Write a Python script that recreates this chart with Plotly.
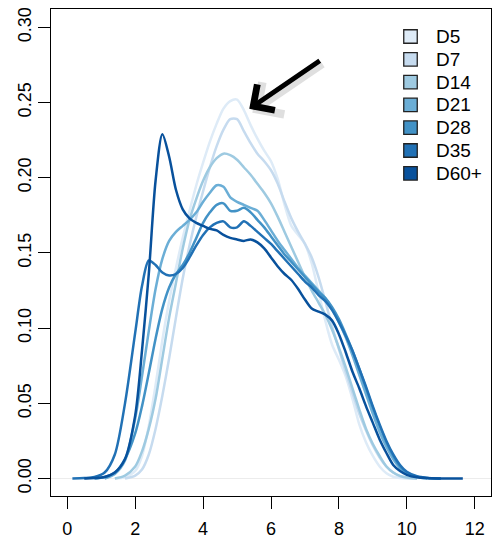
import plotly.graph_objects as go

# ---- data ----
x_grid = [0.15, 0.5, 0.8, 1.1, 1.4, 1.7, 2.0, 2.2, 2.4, 2.6, 2.8, 3.0, 3.2, 3.4, 3.6, 3.8,
          4.0, 4.2, 4.4, 4.6, 4.8, 5.0, 5.2, 5.4, 5.6, 5.8, 6.0, 6.2, 6.4, 6.6, 6.8, 7.0,
          7.2, 7.4, 7.6, 7.8, 8.0, 8.2, 8.4, 8.6, 8.8, 9.0, 9.2, 9.4, 9.6, 9.8, 10.0, 10.3,
          10.6, 11.0, 11.65]

d5 = [None, None, None, None, 0.0, 0.001, 0.005, 0.015, 0.035, 0.062, 0.092, 0.118, 0.14, 0.16,
      0.178, 0.195, 0.21, 0.224, 0.236, 0.246, 0.251, 0.252, 0.245, 0.235, 0.226, 0.218, 0.211,
      0.199, 0.182, 0.168, 0.162, 0.156, 0.143, 0.124, 0.105, 0.089, 0.079, 0.068, 0.053, 0.036,
      0.024, 0.015, 0.008, 0.0035, 0.0012, 0.0004, 0.0001, 0.0, None, None, None]
d7 = [None, None, None, None, None, 0.0, 0.002, 0.006, 0.016, 0.033, 0.055, 0.08, 0.107, 0.133,
      0.155, 0.174, 0.191, 0.207, 0.221, 0.232, 0.239, 0.239, 0.231, 0.223, 0.216, 0.211, 0.205,
      0.196, 0.184, 0.173, 0.164, 0.156, 0.147, 0.134, 0.118, 0.101, 0.086, 0.071, 0.057, 0.043,
      0.032, 0.022, 0.014, 0.008, 0.004, 0.0015, 0.0005, 0.0, None, None, None]
d14 = [None, None, None, None, 0.0, 0.002, 0.008, 0.018, 0.033, 0.053, 0.08, 0.107, 0.13, 0.153,
       0.172, 0.186, 0.198, 0.207, 0.213, 0.216, 0.215, 0.212, 0.207, 0.202, 0.196, 0.19, 0.183,
       0.174, 0.164, 0.154, 0.144, 0.134, 0.125, 0.117, 0.109, 0.099, 0.087, 0.074, 0.06, 0.046,
       0.033, 0.023, 0.015, 0.008, 0.004, 0.0018, 0.0007, 0.0, None, None, None]
d21 = [None, None, None, 0.0, 0.003, 0.012, 0.04, 0.068, 0.098, 0.126, 0.146, 0.158, 0.164, 0.168,
       0.172, 0.177, 0.184, 0.19, 0.195, 0.194, 0.187, 0.184, 0.182, 0.18, 0.178, 0.172, 0.165,
       0.158, 0.152, 0.146, 0.14, 0.135, 0.13, 0.125, 0.12, 0.113, 0.104, 0.094, 0.082, 0.069,
       0.056, 0.043, 0.031, 0.021, 0.013, 0.007, 0.0035, 0.001, 0.0, None, None]
d28 = [None, None, 0.0, 0.001, 0.004, 0.013, 0.03, 0.048, 0.07, 0.093, 0.113, 0.127, 0.136, 0.142,
       0.15, 0.16, 0.17, 0.177, 0.182, 0.183, 0.178, 0.178, 0.18, 0.177, 0.172, 0.167, 0.161,
       0.155, 0.149, 0.144, 0.139, 0.134, 0.129, 0.124, 0.12, 0.114, 0.106, 0.096, 0.085, 0.073,
       0.06, 0.047, 0.035, 0.024, 0.015, 0.008, 0.004, 0.0013, 0.0004, 0.0, None]
d35 = [0.0, 0.0003, 0.001, 0.004, 0.016, 0.05, 0.097, 0.128, 0.145, 0.142, 0.137, 0.135, 0.136,
       0.14, 0.147, 0.155, 0.162, 0.167, 0.17, 0.171, 0.167, 0.167, 0.171, 0.168, 0.164, 0.16,
       0.156, 0.151, 0.146, 0.141, 0.136, 0.131, 0.127, 0.122, 0.118, 0.112, 0.104, 0.095, 0.085,
       0.073, 0.061, 0.048, 0.036, 0.025, 0.016, 0.009, 0.0045, 0.0015, 0.0004, 0.0, None]
d60 = [None, 0.0, 0.0003, 0.001, 0.004, 0.013, 0.042, 0.085, 0.136, 0.198, 0.229, 0.214, 0.192,
       0.179, 0.173, 0.17, 0.168, 0.166, 0.165, 0.162, 0.16, 0.159, 0.158, 0.159, 0.157, 0.153,
       0.147, 0.141, 0.136, 0.132, 0.126, 0.119, 0.113, 0.111, 0.109, 0.105, 0.096, 0.084, 0.071,
       0.06, 0.048, 0.037, 0.026, 0.017, 0.009, 0.005, 0.0025, 0.0008, 0.0003, 0.0001, 0.0]

series_names = ["D5", "D7", "D14", "D21", "D28", "D35", "D60+"]
series_values = [d5, d7, d14, d21, d28, d35, d60]
colors = ["#DEEBF7", "#C6DBEF", "#9ECAE1", "#6BAED6", "#4292C6", "#2171B5", "#08519C"]

x_ticks = [0, 2, 4, 6, 8, 10, 12]
y_ticks = [0.0, 0.05, 0.10, 0.15, 0.20, 0.25, 0.30]

# arrow annotation (head / tail in data units)
arrow_head = (5.36, 0.2458)
arrow_tail = (7.48, 0.2785)

FONT = "Liberation Sans, Arial, Helvetica, sans-serif"

# ---- layout geometry (pixels) ----
W, H = 492, 541
ML, MR, MT, MB = 51, 1, 9, 45
PW, PH = W - ML - MR, H - MT - MB


def px_to_paper(px, py):
    return (px - ML) / PW, (H - MB - py) / PH


fig = go.Figure()
for name, vals, col in zip(series_names, series_values, colors):
    fig.add_trace(go.Scatter(x=x_grid, y=vals, mode="lines", name=name,
                             line=dict(color=col, width=2.5, shape="spline", smoothing=0.8),
                             showlegend=False, hoverinfo="skip"))

# ---- legend (squares + text), R style ----
LEG_X_SQ, LEG_X_TXT, LEG_Y0, LEG_DY, SQ = 410.5, 434, 36.5, 22.8, 13.5
for i, (name, col) in enumerate(zip(series_names, colors)):
    cy = LEG_Y0 + i * LEG_DY
    x0, y0 = px_to_paper(LEG_X_SQ - SQ / 2, cy + SQ / 2)
    x1, y1 = px_to_paper(LEG_X_SQ + SQ / 2, cy - SQ / 2)
    fig.add_shape(type="rect", xref="paper", yref="paper", x0=x0, y0=y0, x1=x1, y1=y1,
                  fillcolor=col, line=dict(color="#222222", width=1.3), layer="above")
    tx, ty = px_to_paper(LEG_X_TXT, cy)
    fig.add_annotation(x=tx, y=ty, xref="paper", yref="paper", text=name, showarrow=False,
                       xanchor="left", yanchor="middle",
                       font=dict(family=FONT, size=19, color="black"))

# arrow shadow + arrow
fig.add_annotation(x=arrow_head[0] + 0.09, y=arrow_head[1] - 0.0025,
                   ax=arrow_tail[0] + 0.09, ay=arrow_tail[1] - 0.0025,
                   xref="x", yref="y", axref="x", ayref="y", text="",
                   showarrow=True, arrowhead=4, arrowsize=1.15, arrowwidth=6.5,
                   arrowcolor="rgba(0,0,0,0.12)")
fig.add_annotation(x=arrow_head[0], y=arrow_head[1], ax=arrow_tail[0], ay=arrow_tail[1],
                   xref="x", yref="y", axref="x", ayref="y", text="",
                   showarrow=True, arrowhead=4, arrowsize=1.2, arrowwidth=5,
                   arrowcolor="black")

fig.update_layout(
    width=W, height=H,
    margin=dict(l=ML, r=MR, t=MT, b=MB),
    paper_bgcolor="white", plot_bgcolor="white",
    font=dict(family=FONT, size=18, color="black"),
    showlegend=False,
)
fig.update_xaxes(range=[-0.48, 12.48], tickvals=x_ticks, ticktext=[str(v) for v in x_ticks],
                 ticks="outside", ticklen=12, tickwidth=1, tickcolor="black",
                 showline=True, mirror=True, linecolor="black", linewidth=1,
                 showgrid=False, zeroline=False, tickfont=dict(size=18),
                 ticklabelstandoff=4)
fig.update_yaxes(range=[-0.0116, 0.3122], tickvals=y_ticks, ticktext=[f"{v:.2f}" for v in y_ticks],
                 ticks="outside", ticklen=12, tickwidth=1, tickcolor="black",
                 showline=True, mirror=True, linecolor="black", linewidth=1,
                 showgrid=False, zeroline=True, zerolinecolor="#ececec", zerolinewidth=1,
                 tickangle=-90, tickfont=dict(size=18))

fig.write_html("out.html")
